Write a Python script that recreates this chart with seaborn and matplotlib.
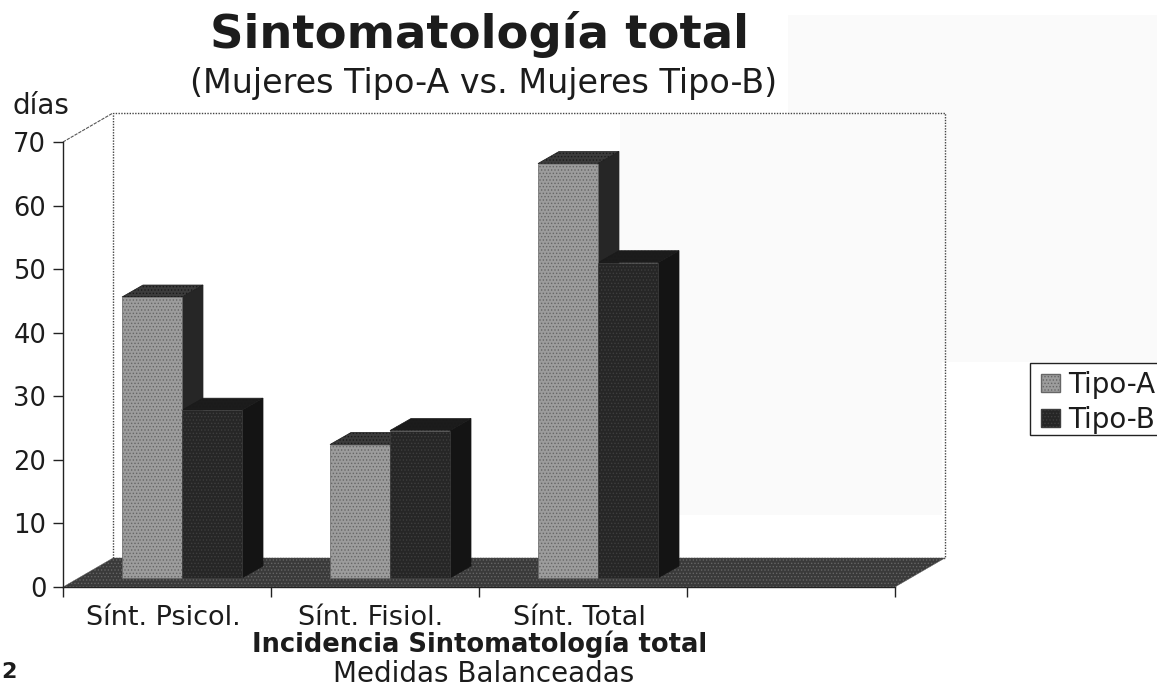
import matplotlib
matplotlib.use("Agg")
import matplotlib.pyplot as plt
from matplotlib.patches import Polygon, Rectangle
import pandas as pd
import seaborn as sns

categories = ["Sínt. Psicol.", "Sínt. Fisiol.", "Sínt. Total"]
tipo_a = [44.2, 21.0, 65.2]
tipo_b = [26.4, 23.2, 49.6]
series_names = ["Tipo-A", "Tipo-B"]
y_ticks = [0, 10, 20, 30, 40, 50, 60, 70]

W, H = 1157, 686
sns.set_theme(style="white")
plt.rcParams["font.family"] = ["DejaVu Sans"]
plt.rcParams["hatch.linewidth"] = 0.6

df = pd.DataFrame({
    "cat": categories * 2,
    "valor": tipo_a + tipo_b,
    "serie": [series_names[0]] * 3 + [series_names[1]] * 3,
})

fig = plt.figure(figsize=(W / 100, H / 100), dpi=100, facecolor="white")
ax = fig.add_axes([63 / W, 1 - 587 / H, 832 / W, 445 / H])
ax.set_facecolor("none")

# faint scan shading
fig.add_artist(Rectangle((788 / W, 1 - 362 / H), 369 / W, 347 / H, transform=fig.transFigure,
                         fc="#fafafa", ec="none", zorder=-5))
fig.add_artist(Rectangle((620 / W, 1 - 515 / H), 322 / W, 400 / H, transform=fig.transFigure,
                         fc="#fafafa", ec="none", zorder=-5))

sns.barplot(data=df, x="cat", y="valor", hue="serie", order=categories + [""],
            hue_order=series_names, palette=["#959595", "#2c2c2c"], saturation=1,
            width=0.577, gap=0, errorbar=None, legend=True, ax=ax, zorder=3)

ax.set_xlim(-0.5, 3.5)
ax.set_ylim(0, 70)
px = 1 / 208.0          # one pixel in category units
py = 70 / 445.0         # one pixel in value units
wall_dx, wall_dy = 50 * px, 29 * py
shift_x, shift_y = 15 * px, 9 * py
bar_dx, bar_dy = 21 * px, 12 * py
x0, x1 = ax.get_xlim()

# back wall and floor
ax.add_patch(Polygon([(x0 + wall_dx, wall_dy), (x0 + wall_dx, 70 + wall_dy),
                      (x1 + wall_dx, 70 + wall_dy), (x1 + wall_dx, wall_dy)],
                     closed=True, fc="none", ec="#444444", lw=1.0, ls=(0, (1, 1)),
                     clip_on=False, zorder=1))
ax.plot([x0, x0 + wall_dx], [70, 70 + wall_dy], color="#555555", lw=0.8, ls=(0, (3, 1)),
        clip_on=False, zorder=1)
ax.add_patch(Polygon([(x0, 0), (x1, 0), (x1 + wall_dx, wall_dy), (x0 + wall_dx, wall_dy)],
                     closed=True, fc="#3a3a3a", ec="#666666", lw=0.3, hatch=".....",
                     clip_on=False, zorder=1.5))

face_styles = {series_names[0]: ("#9c9c9c", "#3c3c3c", "#262626", "#666666"),
               series_names[1]: ("#262626", "#1c1c1c", "#141414", "#3e3e3e")}
n_cat = len(categories)
for i, container in enumerate(ax.containers):
    front, top_c, side_c, dots = face_styles[series_names[i]]
    for bar in container.patches:
        if bar.get_height() != bar.get_height() or bar.get_height() == 0:
            continue
        bar.set_x(bar.get_x() + shift_x)
        bar.set_y(shift_y)
        bar.set_facecolor(front)
        bar.set_edgecolor(dots)
        bar.set_linewidth(0.5)
        bar.set_hatch(".....")
        a, b = bar.get_x(), bar.get_x() + bar.get_width()
        lo, hi = bar.get_y(), bar.get_y() + bar.get_height()
        ax.add_patch(Polygon([(b, lo), (b + bar_dx, lo + bar_dy), (b + bar_dx, hi + bar_dy), (b, hi)],
                             closed=True, fc=side_c, ec=side_c, lw=0.5,
                             clip_on=False, zorder=2))
        ax.add_patch(Polygon([(a, hi), (b, hi), (b + bar_dx, hi + bar_dy), (a + bar_dx, hi + bar_dy)],
                             closed=True, fc=top_c, ec="#1a1a1a", lw=0.5, hatch=".....",
                             clip_on=False, zorder=2))

# axes
for name in ("top", "right"):
    ax.spines[name].set_visible(False)
for name in ("left", "bottom"):
    ax.spines[name].set_color("#222222")
    ax.spines[name].set_linewidth(1.0)
ax.set_xlabel("")
ax.set_ylabel("")
ax.set_yticks(y_ticks)
ax.tick_params(axis="y", length=7, width=1, color="#222222", labelsize=18.5, pad=5,
               labelcolor="#1c1c1c", left=True)
edges = [x0 + k for k in range(n_cat + 2)]
ax.set_xticks(edges)
ax.set_xticklabels([])
ax.tick_params(axis="x", which="major", length=7, width=1, color="#222222", bottom=True)
ax.set_xticks([k - 4 * px for k in range(n_cat)], minor=True)
ax.set_xticklabels(categories, minor=True, fontsize=19.5, color="#1c1c1c")
ax.tick_params(axis="x", which="minor", length=0, pad=13, bottom=False)

# legend: frame runs off the right edge of the picture
fig.add_artist(Rectangle((1030 / W, 1 - 435 / H), 140 / W, 72 / H, transform=fig.transFigure,
                         fc="white", ec="#222222", lw=1, zorder=5))
old = ax.get_legend()
handles = old.legend_handles
labels = [t.get_text() for t in old.get_texts()]
for h, (fc, dc) in zip(handles, [("#9c9c9c", "#666666"), ("#262626", "#3e3e3e")]):
    h.set_facecolor(fc)
    h.set_edgecolor(dc)
    h.set_hatch(".....")
leg = ax.legend(handles, labels, loc="upper left", bbox_to_anchor=(1041 / W, 1 - 371 / H),
                bbox_transform=fig.transFigure, fontsize=20, frameon=False,
                handlelength=0.68, handleheight=0.62,
                handletextpad=0.28, labelspacing=0.26, borderpad=0, borderaxespad=0)
leg.set_zorder(10)
leg.set_in_layout(False)
for t in leg.get_texts():
    t.set_color("#1c1c1c")
ax.set_zorder(6)

# text
def put(x, y, s, **kw):
    fig.text(x / W, 1 - y / H, s, va="center", color="#1c1c1c", **kw)

put(480, 35, "Sintomatología total", ha="center", fontsize=33.5, fontweight="bold")
put(484, 84, "(Mujeres Tipo-A vs. Mujeres Tipo-B)", ha="center", fontsize=24)
put(13, 106, "días", ha="left", fontsize=20)
put(480, 644, "Incidencia Sintomatología total", ha="center", fontsize=18.5, fontweight="bold")
put(484, 674, "Medidas Balanceadas", ha="center", fontsize=20)
put(1, 672, "2", ha="left", fontsize=16, fontweight="bold")

fig.savefig("out.png", dpi=100)
